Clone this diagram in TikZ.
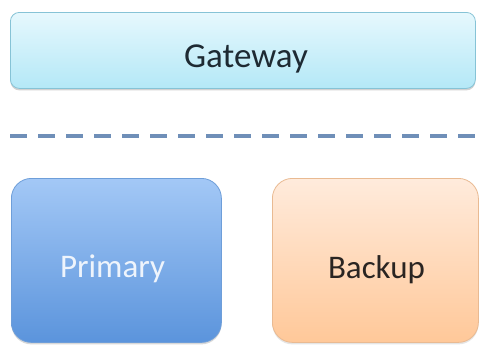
\documentclass[tikz,border=0pt]{standalone}
\usepackage{fontspec}
\setmainfont{Carlito}
\usetikzlibrary{shadows}
\definecolor{gwtop}{HTML}{E6F8FD}
\definecolor{gwbot}{HTML}{B4E8F7}
\definecolor{gwline}{HTML}{86C3D6}
\definecolor{prtop}{HTML}{A3C8F6}
\definecolor{prbot}{HTML}{5B94DC}
\definecolor{prline}{HTML}{6E9ED9}
\definecolor{bktop}{HTML}{FFEBDC}
\definecolor{bkbot}{HTML}{FFC899}
\definecolor{bkline}{HTML}{E9BA92}
\definecolor{dashcol}{HTML}{6F8FB8}
\definecolor{gwtxt}{HTML}{1E2A33}
\definecolor{prtxt}{HTML}{EEF4FC}
\definecolor{bktxt}{HTML}{2A2522}
\tikzset{
  box/.style={draw, line width=0.8pt, inner sep=0pt, anchor=north west},
  gw/.style={box, rounded corners=9pt, top color=gwtop, bottom color=gwbot, draw=gwline,
     drop shadow={shadow xshift=0pt, shadow yshift=-2pt, opacity=0.35}},
  pr/.style={box, rounded corners=20pt, top color=prtop, bottom color=prbot, draw=prline,
     drop shadow={shadow xshift=0pt, shadow yshift=-2pt, opacity=0.3}},
  bk/.style={box, rounded corners=20pt, top color=bktop, bottom color=bkbot, draw=bkline,
     drop shadow={shadow xshift=0pt, shadow yshift=-2pt, opacity=0.2}},
  lbl/.style={anchor=base, inner sep=0pt},
  sep/.style={draw=dashcol, line width=4.5pt, dash pattern=on 17pt off 11pt}
}
\begin{document}
\begin{tikzpicture}[x=1pt,y=-1pt]
\useasboundingbox[fill=white] (0,0) rectangle (480,348);
\node[gw, minimum width=465pt, minimum height=76pt] (gateway) at (10,12) {};
\node[lbl, text=gwtxt, font=\fontsize{35}{40}\selectfont] (gwtext) at (246,67) {Gateway};
\coordinate (sepL) at (10,136);
\coordinate (sepR) at (480,136);
\draw[sep] (sepL) -- (sepR);
\node[pr, minimum width=210pt, minimum height=164pt] (primary) at (11,178) {};
\node[lbl, text=prtxt, font=\fontsize{33}{38}\selectfont] (prtext) at (112.5,277) {Primary};
\node[bk, minimum width=206pt, minimum height=164pt] (backup) at (272,178) {};
\node[lbl, text=bktxt, font=\fontsize{33}{38}\selectfont] (bktext) at (376.5,278) {Backup};
\end{tikzpicture}
\end{document}
